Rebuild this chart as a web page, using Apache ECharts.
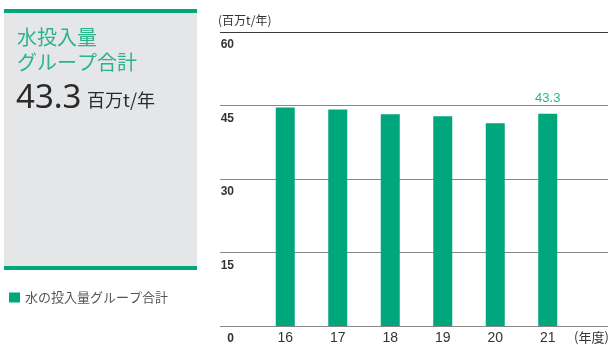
<!DOCTYPE html>
<html>
<head>
<meta charset="utf-8">
<script src="https://cdn.jsdelivr.net/npm/echarts@6/dist/echarts.min.js"></script>
<style>
  html, body { margin: 0; padding: 0; background: #fff; }
  #chart { width: 608px; height: 345px; }
</style>
</head>
<body>
<div id="chart"></div>
<script>
// Water intake, group total (million t / year), fiscal years 2016–2021
const years = ['16', '17', '18', '19', '20', '21'];
const waterIntake = [44.6, 44.2, 43.2, 42.8, 41.4, 43.3];
const yTicks = [0, 15, 30, 45, 60];
const seriesName = '水の投入量グループ合計';
const latestValue = '43.3';

const GREEN = '#00a67c';
const JP = '"Noto Sans CJK JP", "Noto Sans", sans-serif';
const NUM = '"Liberation Sans", Arial, sans-serif';

const chart = echarts.init(document.getElementById('chart'), null, { renderer: 'canvas' });

const lastIdx = waterIntake.length - 1;
const barData = waterIntake.map((v, i) => i === lastIdx
  ? { value: v, label: { show: true, formatter: latestValue } }
  : v);

chart.setOption({
  animation: false,
  textStyle: { fontFamily: JP },
  legend: {
    left: 4, top: 286,
    icon: 'rect', itemWidth: 11, itemHeight: 10, itemGap: 5,
    textStyle: { fontSize: 13, color: '#555', fontFamily: JP },
    data: [seriesName]
  },
  grid: [
    { left: 220, right: 0, top: 32, bottom: 17 },
    { left: 259, right: 34, top: 32, bottom: 17 }
  ],
  xAxis: [
    { type: 'value', gridIndex: 0, show: false, min: 0, max: 1 },
    {
      type: 'category', gridIndex: 1, data: years,
      axisLine: { show: false }, axisTick: { show: false },
      axisLabel: { margin: 5, fontSize: 14, color: '#333', fontFamily: NUM }
    }
  ],
  yAxis: [
    {
      type: 'value', gridIndex: 0, min: yTicks[0], max: yTicks[yTicks.length - 1], interval: 15,
      axisLine: { show: false }, axisTick: { show: false },
      splitLine: { show: true, lineStyle: { color: ['#888', '#888', '#888', '#888', '#3a3a3a'], width: 1 } },
      axisLabel: {
        inside: true, align: 'right', margin: 14, verticalAlign: 'top',
        padding: [7, 0, 0, 0], lineHeight: 12,
        fontSize: 12, fontWeight: 'bold', color: '#333', fontFamily: NUM
      }
    },
    {
      type: 'value', gridIndex: 1, min: yTicks[0], max: yTicks[yTicks.length - 1], interval: 15,
      show: false, splitLine: { show: false }
    }
  ],
  series: [{
    name: seriesName, type: 'bar', xAxisIndex: 1, yAxisIndex: 1,
    data: barData, barWidth: 19,
    itemStyle: { color: GREEN },
    label: {
      show: false, position: 'top', distance: 9,
      fontSize: 13, color: '#2bb48a', fontFamily: NUM
    }
  }],
  graphic: [
    // left summary panel
    { type: 'rect', left: 4, top: 9, shape: { width: 193, height: 261 }, style: { fill: '#e5e6e8' } },
    { type: 'rect', left: 4, top: 9, shape: { width: 193, height: 4 }, style: { fill: GREEN } },
    { type: 'rect', left: 4, top: 266, shape: { width: 193, height: 4 }, style: { fill: GREEN } },
    { type: 'text', left: 17, top: 27, style: { text: '水投入量', fontSize: 20, fill: '#2bb48a', fontFamily: JP } },
    { type: 'text', left: 17, top: 52, style: { text: 'グループ合計', fontSize: 20, fill: '#2bb48a', fontFamily: JP } },
    { type: 'text', left: 16, top: 82, style: { text: latestValue, fontSize: 33, fill: '#2a2a2a', fontFamily: '"Noto Sans", sans-serif' } },
    { type: 'text', left: 87, top: 91, style: { text: '百万t/年', fontSize: 18, fill: '#2a2a2a', fontFamily: JP } },
    // axis captions
    { type: 'text', left: 218, top: 14, style: { text: '(百万t/年)', fontSize: 12, fill: '#333', fontFamily: JP } },
    { type: 'text', left: 574, top: 331, style: { text: '(年度)', fontSize: 13, fill: '#333', fontFamily: JP } }
  ]
});
</script>
</body>
</html>
